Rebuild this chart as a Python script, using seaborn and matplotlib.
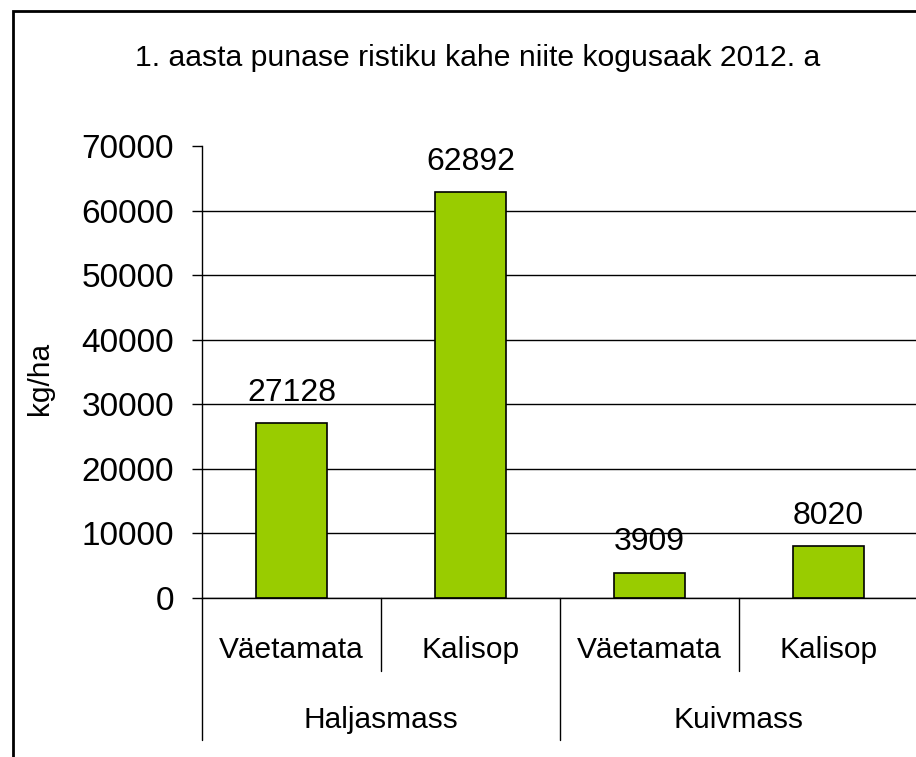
import pandas as pd
import matplotlib
matplotlib.use("Agg")
import matplotlib.pyplot as plt
import matplotlib.transforms as mtransforms
from matplotlib.patches import Rectangle
import seaborn as sns

# Data
groups = ['Haljasmass', 'Haljasmass', 'Kuivmass', 'Kuivmass']
treatments = ['Väetamata', 'Kalisop', 'Väetamata', 'Kalisop']
values = [27128, 62892, 3909, 8020]
y_ticks = [0, 10000, 20000, 30000, 40000, 50000, 60000, 70000]
title = "1. aasta punase ristiku kahe niite kogusaak 2012. a"

df = pd.DataFrame({'group': groups, 'treatment': treatments, 'kg_ha': values})
df['key'] = df['group'] + ' / ' + df['treatment']

sns.set_theme(style='white')
plt.rcParams['font.family'] = ['Liberation Sans', 'DejaVu Sans']
plt.rcParams['text.color'] = 'black'
plt.rcParams['ytick.color'] = 'black'
plt.rcParams['xtick.color'] = 'black'

W, H = 916, 757
fig = plt.figure(figsize=(W / 100, H / 100), dpi=100)
# axes placed in pixel terms: left 202, right 918, top 146, bottom 598
ax = fig.add_axes([202 / W, (H - 598) / H, (918 - 202) / W, (598 - 146) / H])

sns.barplot(data=df, x='key', y='kg_ha', color='#99CC00', saturation=1,
            edgecolor='black', linewidth=1.2, width=0.4, ax=ax)

ax.set_xlim(-0.5, len(df) - 0.5)
ax.set_ylim(y_ticks[0], y_ticks[-1])
ax.set_yticks(y_ticks)
ax.tick_params(axis='y', direction='out', length=7, width=1, color='black',
               labelcolor='black', pad=13, labelsize=24, left=True)
ax.set_xticks([])
ax.set_xlabel('')
ax.set_ylabel('')

# gridlines, none at the top
ax.yaxis.grid(True, color='black', linewidth=1)
ax.get_ygridlines()[-1].set_visible(False)
ax.set_axisbelow(True)

for side in ['top', 'right']:
    ax.spines[side].set_visible(False)
for side in ['left', 'bottom']:
    ax.spines[side].set_color('black')
    ax.spines[side].set_linewidth(1)

# value labels
ax.bar_label(ax.containers[0], fmt='{:.0f}', padding=11, fontsize=23,
             color='black')

# two-level category axis
trans = mtransforms.blended_transform_factory(ax.transData, ax.transAxes)
ah = 598 - 146
short_end = -73 / ah
long_end = -142 / ah
for i, t in enumerate(df['treatment']):
    ax.text(i, -52 / ah, t, transform=trans, ha='center', va='center',
            fontsize=21.5, color='black')
bounds = [-0.5]
for i in range(1, len(df)):
    if df['group'][i] != df['group'][i - 1]:
        bounds.append(i - 0.5)
bounds.append(len(df) - 0.5)
for i in range(len(df) + 1):
    xb = i - 0.5
    end = long_end if xb in bounds else short_end
    ax.plot([xb, xb], [0, end], transform=trans, color='black', lw=1,
            clip_on=False)
for a, b in zip(bounds[:-1], bounds[1:]):
    ax.text((a + b) / 2, -122 / ah, df['group'][int(a + 0.5)], transform=trans,
            ha='center', va='center', fontsize=21.5, color='black')

fig.text(40 / W, 1 - 378 / H, 'kg/ha', rotation=90, ha='center', va='center',
         fontsize=21.5, color='black')
fig.text(478 / W, 1 - 58 / H, title, ha='center', va='center', fontsize=21.7,
         color='black')

# chart frame (cut off at right and bottom like the reference)
fig.add_artist(Rectangle((13 / W, -0.1), 1.2, (H - 11) / H + 0.1,
                         transform=fig.transFigure, fill=False,
                         edgecolor='black', linewidth=2))

fig.savefig('out.png', dpi=100)
